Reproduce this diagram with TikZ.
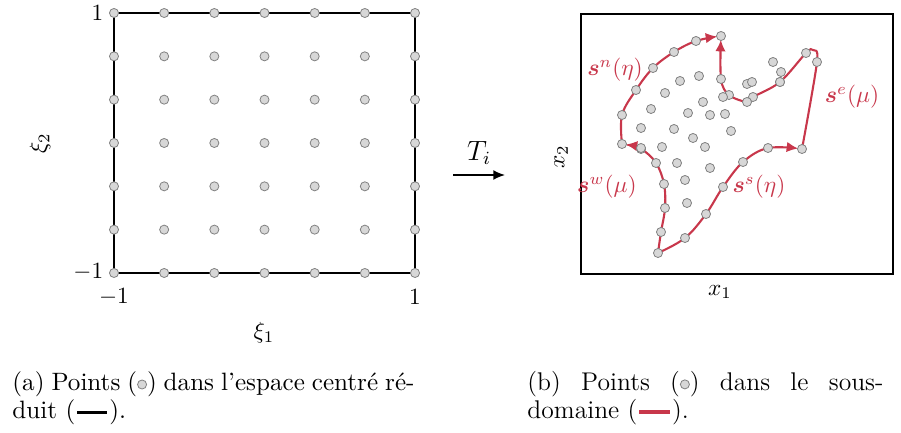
\documentclass[tikz,border=0pt]{standalone}
\usepackage{amsmath}
\usetikzlibrary{arrows.meta,backgrounds}
\definecolor{cred}{RGB}{200,55,75}
\definecolor{dotfill}{RGB}{215,215,215}
\definecolor{dotdraw}{RGB}{130,130,130}
\begin{document}
\begin{tikzpicture}[x=0.43pt,y=-0.43pt,
 dot/.style={circle,draw=dotdraw,fill=dotfill,line width=0.35pt,inner sep=0pt,minimum size=3.9pt},
 bord/.style={line width=0.95pt},
 redc/.style={cred,line width=0.9pt},
 arr/.style={-{Latex[length=5pt,width=4.5pt]},shorten >=1.6pt},
 lab/.style={cred},
 tick/.style={inner sep=1pt},
 capa/.style={anchor=base west,inner sep=0pt,font=\fontsize{10.8}{13}\selectfont},
 capb/.style={anchor=base west,inner sep=0pt,font=\fontsize{11}{13.6}\selectfont}]
\useasboundingbox (0,0) rectangle (901,433);
% ---------- left panel ----------
\foreach \i in {0,...,6}{
  \foreach \j in {0,...,6}{
    \node[dot] (g\i\j) at ({114+50.17*\i},{13+43.33*\j}) {};
  }
}
\begin{scope}[on background layer]
\draw[bord] (g00.center) -- (g60.center) -- (g66.center) -- (g06.center) -- cycle;
\end{scope}
\node[tick,anchor=east] (t1) at (106,13) {$1$};
\node[tick,anchor=east] (tm1) at (106,272) {$-1$};
\node[tick] (bm1) at (114,297) {$-1$};
\node[tick] (b1) at (415,297) {$1$};
\node (xi1) at (264,333) {$\xi_1$};
\node[rotate=90] (xi2) at (40,143) {$\xi_2$};
% ---------- map arrow ----------
\coordinate (ta) at (453,175);
\coordinate (tb) at (505,175);
\draw[-{Latex[length=5pt,width=4.2pt]},line width=0.6pt] (ta) -- node[above=1pt,font=\large] (Ti) {$T_i$} (tb);
% ---------- right panel ----------
\node[draw,line width=0.7pt,minimum width=134.16pt,minimum height=111.8pt,inner sep=0pt] (box) at (737,144) {};
\node (x1) at (720,292) {$x_1$};
\node[rotate=90] (x2) at (561,157) {$x_2$};
% boundary points
\coordinate (SW) at (658,253);
\coordinate (SE) at (802,149);
\coordinate (NW) at (622,144);
\coordinate (NE) at (721,36);
\coordinate (w1) at (661,232);
\coordinate (w2) at (665,208);
\coordinate (w3) at (664,184);
\coordinate (w4) at (656,163);
\coordinate (w5) at (641,149);
\coordinate (n1) at (622,115);
\coordinate (n2) at (636,90);
\coordinate (n3) at (653,68);
\coordinate (n4) at (674,52);
\coordinate (n5) at (696,41);
\coordinate (s1) at (685,238);
\coordinate (s2) at (706,214);
\coordinate (s3) at (723,187);
\coordinate (s4) at (743,162);
\coordinate (s5) at (768,148);
\coordinate (e1) at (817,62);
\coordinate (eh) at (813,50);
\coordinate (e2) at (806,53);
\coordinate (e3) at (780,82);
\coordinate (e4) at (753,97);
\coordinate (e5) at (747,102);
\coordinate (e6) at (729,95);
\coordinate (e7) at (721,79);
% boundary curves
\draw[redc,arr] plot[smooth,tension=0.6] coordinates {(SW) (w1) (w2) (w3) (w4) (w5) (NW)};
\draw[redc,arr] plot[smooth,tension=0.6] coordinates {(NW) (n1) (n2) (n3) (n4) (n5) (NE)};
\draw[redc,arr] plot[smooth,tension=0.6] coordinates {(SW) (s1) (s2) (s3) (s4) (s5) (SE)};
\draw[redc,arr] plot[smooth,tension=0.55] coordinates {(SE) (e1) (eh) (e2) (e3) (e4) (e5) (e6) (e7) (NE)};
% boundary dots
\foreach \p in {SW,SE,NW,NE,w1,w2,w3,w4,w5,n1,n2,n3,n4,n5,s1,s2,s3,s4,s5,e1,e2,e3,e4,e5,e6,e7}{
  \node[dot] (d\p) at (\p) {};
}
% interior dots
\foreach \x/\y [count=\k] in {
 773/62, 781/72, 780/82, 747/84, 752/82, 723/97, 699/76, 680/81, 665/93,
 651/109, 703/102, 688/113, 710/115, 725/114, 641/128, 674/129, 731/131,
 693/138, 641/148, 662/147, 705/147, 677/163, 710/168, 685/180, 687/203}{
  \node[dot] (i\k) at (\x,\y) {};
}
% labels
\node[lab] (ln) at (615,70) {$\boldsymbol{s}^n(\eta)$};
\node[lab] (le) at (852,97) {$\boldsymbol{s}^e(\mu)$};
\node[lab] (lw) at (607,187) {$\boldsymbol{s}^w(\mu)$};
\node[lab] (ls) at (759,187) {$\boldsymbol{s}^s(\eta)$};
% ---------- captions ----------
\newcommand{\dotsym}{\tikz[baseline=-0.6ex]\node[dot]{};}
\newcommand{\barsym}[1]{\tikz[baseline=-0.6ex]\draw[#1,line width=1.7pt](0,0)--(1.2em,0);}
\node[capa] (ca1) at (12,391) {\makebox[172.9pt][s]{(a) Points (\dotsym) dans l'espace centré ré-}};
\node[capa] (ca2) at (12,419) {duit (\barsym{black}).};
\node[capb] (cb1) at (527,391) {\makebox[153.08pt][s]{(b) Points (\dotsym) dans le sous-}};
\node[capb] (cb2) at (527,419) {domaine (\barsym{cred}).};
\end{tikzpicture}
\end{document}
